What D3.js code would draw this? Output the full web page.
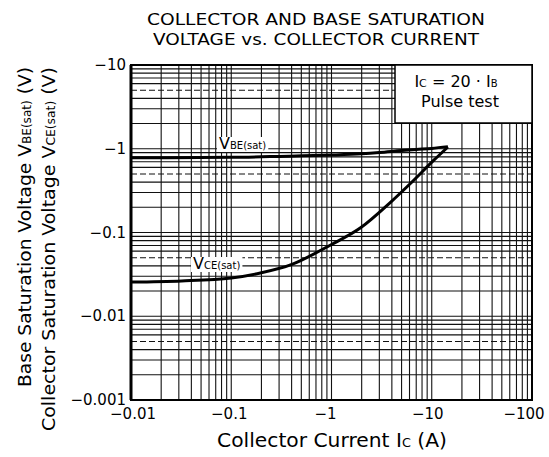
<!DOCTYPE html>
<html>
<head>
<meta charset="utf-8">
<script src="https://cdn.jsdelivr.net/npm/d3@7"></script>
<style>
  body { margin: 0; background: #fff; }
  text { font-family: "DejaVu Sans", sans-serif; fill: #000; }
</style>
</head>
<body>
<div id="chart"></div>
<script>
// Collector current magnitude (A) and saturation voltages magnitude (V)
const vbeCurrent = [0.01, 0.1, 0.3, 1, 2, 3, 5, 7, 10, 14.5];
const vbeVoltage = [0.78, 0.79, 0.81, 0.84, 0.87, 0.9, 0.95, 0.98, 1.01, 1.06];
const vceCurrent = [0.01, 0.032, 0.1, 0.195, 0.39, 0.98, 1.95, 3.9, 6.2, 10.5, 14.5];
const vceVoltage = [0.0256, 0.0264, 0.0286, 0.0328, 0.041, 0.071, 0.114, 0.231, 0.39, 0.73, 1.05];
const xTicks = [0.01, 0.1, 1, 10, 100];
const yTicks = [0.001, 0.01, 0.1, 1, 10];
const xTickLabels = ["−0.01", "−0.1", "−1", "−10", "−100"];
const yTickLabels = ["−0.001", "−0.01", "−0.1", "−1", "−10"];

const width = 549, height = 457;
const plotLeft = 131, plotRight = 532, plotTop = 65, plotBottom = 400;

const svg = d3.select("#chart").append("svg")
    .attr("width", width).attr("height", height);

const x = d3.scaleLog().domain([0.01, 100]).range([plotLeft, plotRight]);
const y = d3.scaleLog().domain([0.001, 10]).range([plotBottom, plotTop]);

// log grid: 1..9 per decade
const gridVals = (lo, hi) => {
    const out = [];
    for (let d = lo; d < hi * 0.999; d *= 10) {
        for (let k = 1; k < 10; k++) out.push(+(d * k).toPrecision(3));
    }
    out.push(hi);
    return out;
};

const grid = svg.append("g");
grid.selectAll("line.vx")
    .data(gridVals(0.01, 100))
    .enter().append("line")
    .attr("x1", d => x(d)).attr("x2", d => x(d))
    .attr("y1", plotTop).attr("y2", plotBottom)
    .attr("stroke", "#111").attr("stroke-width", 1.1);
grid.selectAll("line.hy")
    .data(gridVals(0.001, 10))
    .enter().append("line")
    .attr("x1", plotLeft).attr("x2", plotRight)
    .attr("y1", d => y(d)).attr("y2", d => y(d))
    .attr("stroke", "#111").attr("stroke-width", 1.1)
    .attr("stroke-dasharray", d => {
        const m = d / Math.pow(10, Math.floor(Math.log10(d) + 1e-9));
        return Math.abs(m - 5) < 0.01 ? "6,3" : null;
    });

// frame
svg.append("rect")
    .attr("x", plotLeft).attr("y", plotTop)
    .attr("width", plotRight - plotLeft).attr("height", plotBottom - plotTop)
    .attr("fill", "none").attr("stroke", "#000").attr("stroke-width", 2);
svg.append("line")
    .attr("x1", plotLeft).attr("x2", plotLeft).attr("y1", plotTop).attr("y2", plotBottom)
    .attr("stroke", "#000").attr("stroke-width", 3);

// legend box
svg.append("rect")
    .attr("x", 395).attr("y", plotTop)
    .attr("width", plotRight - 395).attr("height", 58)
    .attr("fill", "#fff").attr("stroke", "#000").attr("stroke-width", 1.5);
const cond = svg.append("text").attr("x", 456).attr("y", 87)
    .attr("text-anchor", "middle").attr("font-size", 16);
cond.append("tspan").text("I");
cond.append("tspan").attr("font-size", 11).text("C");
cond.append("tspan").text(" = 20 · I");
cond.append("tspan").attr("font-size", 10).text("B");
svg.append("text").attr("x", 460).attr("y", 107)
    .attr("text-anchor", "middle").attr("font-size", 16).text("Pulse test");

// curves
const line = d3.line().curve(d3.curveMonotoneX).x(d => x(d[0])).y(d => y(d[1]));
svg.append("path")
    .datum(d3.zip(vbeCurrent, vbeVoltage))
    .attr("d", line).attr("fill", "none")
    .attr("stroke", "#000").attr("stroke-width", 3);
svg.append("path")
    .datum(d3.zip(vceCurrent, vceVoltage))
    .attr("d", line).attr("fill", "none")
    .attr("stroke", "#000").attr("stroke-width", 3);

// curve labels with white backing
function curveLabel(px, py, sub) {
    const g = svg.append("g");
    const bg = g.append("rect").attr("fill", "#fff");
    const t = g.append("text").attr("x", px).attr("y", py).attr("font-size", 16);
    t.append("tspan").text("V");
    t.append("tspan").attr("font-size", 10).text(sub);
    const bb = t.node().getBBox();
    bg.attr("x", bb.x - 2).attr("y", bb.y + 3).attr("width", bb.width + 4).attr("height", bb.height - 4);
}
curveLabel(219, 149, "BE(sat)");
curveLabel(193, 269, "CE(sat)");

// tick labels
const xShift = [2, -2, -6, -4, -8];
svg.selectAll("text.xt")
    .data(xTicks)
    .enter().append("text")
    .attr("x", (d, i) => x(d) + xShift[i]).attr("y", 419)
    .attr("text-anchor", "middle").attr("font-size", 15)
    .text((d, i) => xTickLabels[i]);
svg.selectAll("text.yt")
    .data(yTicks)
    .enter().append("text")
    .attr("x", 126).attr("y", d => y(d) + 5)
    .attr("text-anchor", "end").attr("font-size", 15)
    .text((d, i) => yTickLabels[i]);

// title
const titles = ["COLLECTOR AND BASE SATURATION", "VOLTAGE vs. COLLECTOR CURRENT"];
const titleWidths = [338, 326];
svg.selectAll("text.title")
    .data(titles)
    .enter().append("text")
    .attr("x", 316).attr("y", (d, i) => 25 + i * 20)
    .attr("text-anchor", "middle").attr("font-size", 16.5)
    .attr("textLength", (d, i) => titleWidths[i])
    .attr("lengthAdjust", "spacingAndGlyphs")
    .text(d => d);

// x axis title
const xt = svg.append("text").attr("x", 332).attr("y", 447)
    .attr("text-anchor", "middle").attr("font-size", 19)
    .attr("textLength", 230).attr("lengthAdjust", "spacingAndGlyphs");
xt.append("tspan").text("Collector Current  I");
xt.append("tspan").attr("font-size", 12).text("C");
xt.append("tspan").text("  (A)");

// y axis titles
function yTitle(px, main, sub, len) {
    const t = svg.append("text")
        .attr("transform", `translate(${px},67) rotate(-90)`)
        .attr("text-anchor", "end").attr("font-size", 18.5)
        .attr("textLength", len).attr("lengthAdjust", "spacingAndGlyphs");
    t.append("tspan").text(main + "  V");
    t.append("tspan").attr("font-size", 12).text(sub);
    t.append("tspan").text("  (V)");
}
yTitle(31, "Base Saturation Voltage", "BE(sat)", 320);
yTitle(55, "Collector Saturation Voltage", "CE(sat)", 364);
</script>
</body>
</html>
